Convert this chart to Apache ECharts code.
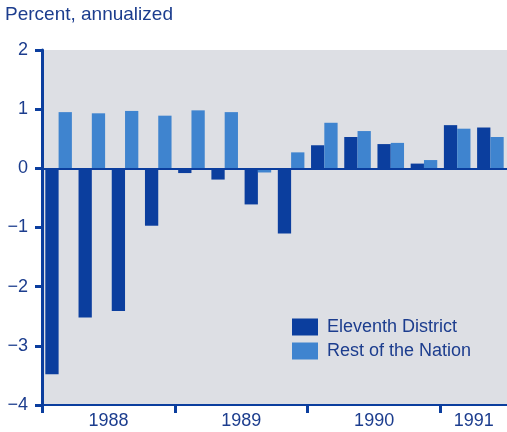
<!DOCTYPE html>
<html>
<head>
<meta charset="utf-8">
<script src="https://cdn.jsdelivr.net/npm/echarts@6/dist/echarts.min.js"></script>
<style>
html,body{margin:0;padding:0;background:#ffffff;}
#chart{width:507px;height:432px;}
</style>
</head>
<body>
<div id="chart"></div>
<script>
var quarters = ['88Q1','88Q2','88Q3','88Q4','89Q1','89Q2','89Q3','89Q4','90Q1','90Q2','90Q3','90Q4','91Q1','91Q2'];
var eleventhDistrict = [-3.48, -2.52, -2.41, -0.97, -0.08, -0.19, -0.61, -1.10, 0.39, 0.53, 0.41, 0.08, 0.73, 0.69];
var restOfNation = [0.95, 0.93, 0.97, 0.89, 0.98, 0.95, -0.07, 0.27, 0.77, 0.63, 0.43, 0.14, 0.67, 0.53];
var yearLabels = ['1988', '1989', '1990', '1991'];
var yearLabelPos = [2, 6, 10, 13];
var yearTickPos = [0, 4, 8, 12];

var dark = '#0b3e9e';
var light = '#3f84cf';
var txt = '#1c3d8e';
var font = '"Liberation Sans", Arial, sans-serif';

var chart = echarts.init(document.getElementById('chart'), null, {renderer: 'canvas'});
chart.setOption({
  animation: false,
  backgroundColor: '#ffffff',
  title: {
    text: 'Percent, annualized',
    left: 0, top: 0,
    textStyle: {color: txt, fontSize: 19, fontWeight: 'normal', fontFamily: font}
  },
  legend: {
    orient: 'vertical',
    left: 287, top: 313,
    itemWidth: 26, itemHeight: 17, itemGap: 6,
    icon: 'rect',
    textStyle: {color: txt, fontSize: 18, fontFamily: font, padding: [0,0,0,4]},
    data: ['Eleventh District', 'Rest of the Nation']
  },
  grid: {
    left: 42, top: 50, right: -1, bottom: 27,
    show: true, backgroundColor: '#dddfe4', borderWidth: 0
  },
  xAxis: [{
    type: 'category',
    data: quarters,
    z: 5,
    axisLine: {show: true, onZero: true, lineStyle: {color: dark, width: 2}},
    axisTick: {show: false},
    axisLabel: {show: false},
    splitLine: {show: false}
  }, {
    type: 'value',
    position: 'bottom',
    min: 0, max: 14,
    z: 5,
    axisLine: {show: true, onZero: false, lineStyle: {color: dark, width: 2}},
    axisTick: {show: true, length: 8, lineStyle: {color: dark, width: 3}, customValues: yearTickPos},
    axisLabel: {
      show: true, margin: 7, color: txt, fontSize: 18, fontFamily: font,
      customValues: yearLabelPos,
      formatter: function (v) { var i = yearLabelPos.indexOf(v); return i >= 0 ? yearLabels[i] : ''; }
    },
    splitLine: {show: false}
  }],
  yAxis: {
    type: 'value',
    min: -4, max: 2, interval: 1,
    z: 5,
    axisLine: {show: true, onZero: false, lineStyle: {color: dark, width: 3}},
    axisTick: {show: true, length: 7, lineStyle: {color: dark, width: 3}},
    axisLabel: {
      margin: 14, color: txt, fontSize: 18, fontFamily: font,
      formatter: function (v) { return v < 0 ? '\u2212' + Math.abs(v) : String(v); }
    },
    splitLine: {show: false}
  },
  series: [{
    name: 'Eleventh District',
    type: 'bar',
    xAxisIndex: 0,
    data: eleventhDistrict,
    barGap: '0%',
    barCategoryGap: '20%',
    itemStyle: {color: dark}
  }, {
    name: 'Rest of the Nation',
    type: 'bar',
    xAxisIndex: 0,
    data: restOfNation,
    barGap: '0%',
    barCategoryGap: '20%',
    itemStyle: {color: light}
  }]
});
</script>
</body>
</html>
